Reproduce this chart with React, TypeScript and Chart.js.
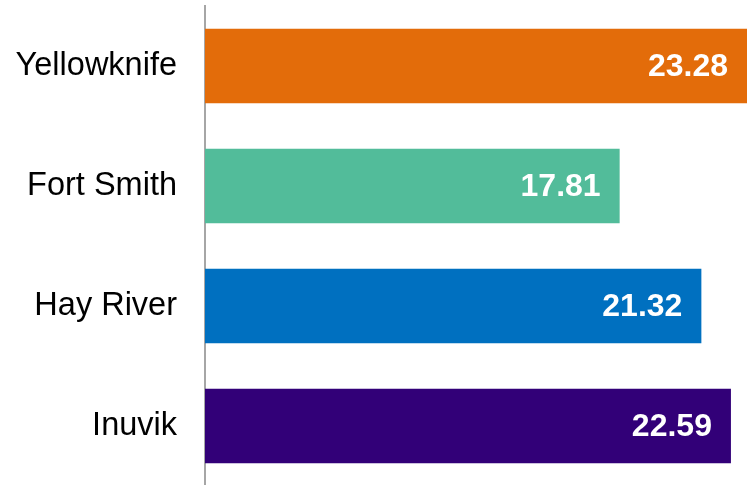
import React, { useEffect, useRef } from "react";
import { Chart, registerables } from "chart.js";

Chart.register(...registerables);

const categories = ["Yellowknife", "Fort Smith", "Hay River", "Inuvik"];
const values = [23.28, 17.81, 21.32, 22.59];
const barColors = ["#E36C0A", "#52BC9A", "#0070C0", "#320078"];
const FONT = "'Liberation Sans', Arial, sans-serif";

const valueLabels = {
  id: "valueLabels",
  afterDatasetsDraw(chart: any) {
    const ctx = chart.ctx;
    const meta = chart.getDatasetMeta(0);
    ctx.save();
    ctx.fillStyle = "#ffffff";
    ctx.font = `bold 32px ${FONT}`;
    ctx.textAlign = "right";
    ctx.textBaseline = "middle";
    meta.data.forEach((bar: any, i: number) => {
      ctx.fillText(values[i].toFixed(2), bar.x - 19, bar.y + 1);
    });
    ctx.restore();
  },
};

export default function App() {
  const ref = useRef<HTMLCanvasElement | null>(null);
  useEffect(() => {
    document.body.style.margin = "0";
    document.body.style.overflow = "hidden";
    const chart = new Chart(ref.current!, {
      type: "bar",
      data: {
        labels: categories,
        datasets: [
          {
            data: values,
            backgroundColor: barColors,
            categoryPercentage: 1,
            barPercentage: 0.62,
          },
        ],
      },
      options: {
        indexAxis: "y",
        animation: false,
        responsive: false,
        maintainAspectRatio: false,
        layout: { padding: { top: 6, right: 2, bottom: 0, left: 0 } },
        plugins: { legend: { display: false }, tooltip: { enabled: false } },
        scales: {
          x: { display: false, min: 0, max: 23.28 },
          y: {
            grid: { display: false, drawTicks: false },
            border: { display: true, color: "#A6A6A6", width: 2 },
            ticks: {
              color: "#000000",
              padding: 28,
              font: { family: FONT, size: 32.5 },
            },
            afterFit(scale: any) {
              scale.width = 205;
              scale.paddingTop = 0;
              scale.paddingBottom = 0;
            },
          },
        },
      },
      plugins: [valueLabels],
    });
    return () => chart.destroy();
  }, []);
  return <canvas ref={ref} width={749} height={486} style={{ display: "block" }} />;
}
